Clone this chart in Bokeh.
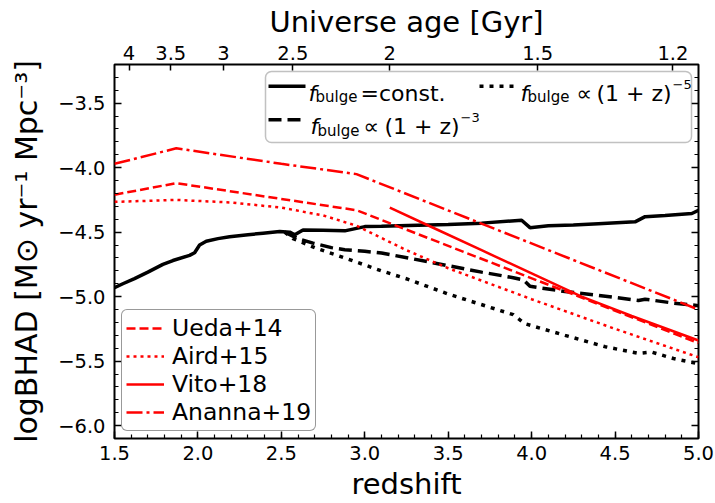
from bokeh.plotting import figure
from bokeh.models import (Range1d, LinearAxis, SingleIntervalTicker, FixedTicker,
                          CustomJSTickFormatter, Legend, LegendItem, Label, BoxAnnotation)
from bokeh.embed import file_html
from bokeh.resources import INLINE

# ---------------- data ----------------
z_const = [1.50, 1.55, 1.62, 1.70, 1.79, 1.85, 1.95, 1.98, 2.01, 2.05, 2.12, 2.19, 2.30,
           2.39, 2.49, 2.55, 2.58, 2.63, 2.75, 2.88, 3.00, 3.10, 3.26, 3.50, 3.70, 3.94,
           3.99, 4.10, 4.25, 4.40, 4.62, 4.68, 4.80, 4.96, 5.00]
bhad_const = [-4.93, -4.90, -4.86, -4.81, -4.75, -4.72, -4.68, -4.66, -4.60, -4.57, -4.55,
              -4.535, -4.52, -4.508, -4.495, -4.50, -4.521, -4.483, -4.485, -4.49, -4.457,
              -4.455, -4.449, -4.44, -4.43, -4.408, -4.465, -4.45, -4.445, -4.435, -4.42,
              -4.38, -4.37, -4.355, -4.33]

z_pow3 = [2.52, 2.60, 2.69, 2.80, 2.88, 3.00, 3.10, 3.26, 3.50, 3.70, 3.89, 3.95, 3.99,
          4.20, 4.40, 4.64, 4.68, 4.85, 5.00]
bhad_pow3 = [-4.50, -4.55, -4.585, -4.62, -4.636, -4.648, -4.662, -4.70, -4.76, -4.81,
             -4.853, -4.87, -4.92, -4.96, -4.99, -5.03, -5.02, -5.05, -5.07]

z_pow5 = [2.52, 2.57, 2.70, 2.88, 3.10, 3.26, 3.50, 3.89, 3.96, 4.20, 4.44, 4.64, 4.72,
          4.85, 5.00]
bhad_pow5 = [-4.50, -4.55, -4.62, -4.70, -4.80, -4.866, -4.98, -5.14, -5.21, -5.30, -5.388,
             -5.44, -5.43, -5.48, -5.52]

z_ueda = [1.50, 1.87, 2.95, 5.00]
bhad_ueda = [-4.21, -4.12, -4.33, -5.36]

z_aird = [1.50, 1.87, 2.20, 2.50, 2.75, 2.95, 3.25, 3.50, 4.00, 4.50, 5.00]
bhad_aird = [-4.265, -4.25, -4.27, -4.31, -4.37, -4.45, -4.64, -4.78, -5.02, -5.25, -5.47]

z_vito = [3.15, 3.40, 3.70, 4.00, 4.30, 4.60, 5.00]
bhad_vito = [-4.31, -4.46, -4.64, -4.82, -5.00, -5.15, -5.34]

z_ananna = [1.50, 1.87, 2.50, 2.95, 5.00]
bhad_ananna = [-3.97, -3.85, -3.97, -4.05, -5.10]

age_labels = ["4", "3.5", "3", "2.5", "2", "1.5", "1.2"]
age_ticks_z = [1.587, 1.837, 2.153, 2.569, 3.150, 4.036, 4.847]

# ---------------- layout ----------------
FONT = "DejaVu Sans"
X0, X1 = 1.5, 5.0
Y0, Y1 = -6.1, -3.2
FL, FR, FT, FB = 114, 698, 64, 443
W, H = 715, 503

def dx(px):
    return X0 + (px - FL) * (X1 - X0) / (FR - FL)

def dy(py):
    return Y1 - (py - FT) * (Y1 - Y0) / (FB - FT)

p = figure(width=W, height=H, x_range=Range1d(X0, X1), y_range=Range1d(Y0, Y1),
           output_backend="svg", toolbar_location=None,
           x_axis_location=None, y_axis_location=None,
           min_border_left=FL, min_border_right=W - FR,
           min_border_top=FT, min_border_bottom=H - FB)
p.grid.visible = False
p.outline_line_color = "black"
p.outline_line_width = 2
p.outline_line_alpha = 1.0
p.background_fill_color = "white"
p.border_fill_color = "white"


def style(ax, label_size="19.5px"):
    ax.axis_line_color = None
    ax.major_tick_in = 7
    ax.major_tick_out = 0
    ax.minor_tick_in = 4
    ax.minor_tick_out = 0
    ax.major_tick_line_color = "black"
    ax.major_tick_line_width = 1.5
    ax.minor_tick_line_color = "black"
    ax.minor_tick_line_width = 1.2
    ax.major_label_text_font = FONT
    ax.major_label_text_font_size = label_size
    ax.major_label_text_color = "black"
    ax.axis_label_text_font = FONT
    ax.axis_label_text_font_size = "29px"
    ax.axis_label_text_font_style = "normal"
    ax.axis_label_text_color = "black"


fmt_x = CustomJSTickFormatter(code="return tick.toFixed(1);")
fmt_y = CustomJSTickFormatter(code="return tick.toFixed(1).replace('-', '\u2212');")
fmt_none = CustomJSTickFormatter(code="return '';")

xb = LinearAxis(ticker=SingleIntervalTicker(interval=0.5, num_minor_ticks=5),
                formatter=fmt_x, axis_label="redshift")
style(xb)
xb.major_label_standoff = 7
xb.axis_label_standoff = 4
p.add_layout(xb, "below")

yl = LinearAxis(ticker=SingleIntervalTicker(interval=0.5, num_minor_ticks=5),
                formatter=fmt_y, axis_label="logBHAD [M\u2299 yr\u207b\u00b9 Mpc\u207b\u00b3]")
style(yl)
yl.major_label_standoff = 9
yl.axis_label_standoff = 11
yl.axis_label_text_font_size = "30px"
p.add_layout(yl, "left")

yr = LinearAxis(ticker=SingleIntervalTicker(interval=0.5, num_minor_ticks=5),
                formatter=fmt_none)
style(yr)
yr.major_label_standoff = 0
yr.major_label_text_font_size = "0px"
p.add_layout(yr, "right")

xt = LinearAxis(ticker=FixedTicker(ticks=age_ticks_z, minor_ticks=[]),
                major_label_overrides={z: s for z, s in zip(age_ticks_z, age_labels)},
                axis_label="Universe age [Gyr]")
style(xt)
xt.major_tick_in = 6
xt.major_label_standoff = 5
xt.axis_label_standoff = 4
p.add_layout(xt, "above")

# ---------------- curves ----------------
RED = "#ff0000"
r_const = p.line(z_const, bhad_const, line_color="black", line_width=3.5)
r_pow3 = p.line(z_pow3, bhad_pow3, line_color="black", line_width=3.5, line_dash="13 6")
r_pow5 = p.line(z_pow5, bhad_pow5, line_color="black", line_width=3.5, line_dash="4 6")

r_ueda = p.line(z_ueda, bhad_ueda, line_color=RED, line_width=2.5, line_dash="9 4")
r_aird = p.line(z_aird, bhad_aird, line_color=RED, line_width=2.5, line_dash="3 4")
r_vito = p.line(z_vito, bhad_vito, line_color=RED, line_width=2.5)
r_ananna = p.line(z_ananna, bhad_ananna, line_color=RED, line_width=2.5,
                  line_dash="16 4 3 4")

# ---------------- lower-left legend ----------------
leg = Legend(items=[LegendItem(label="Ueda+14", renderers=[r_ueda]),
                    LegendItem(label="Aird+15", renderers=[r_aird]),
                    LegendItem(label="Vito+18", renderers=[r_vito]),
                    LegendItem(label="Ananna+19", renderers=[r_ananna])],
             location=(7, 7))
leg.label_text_font = FONT
leg.label_text_font_size = "23.5px"
leg.label_text_color = "black"
leg.label_height = 28
leg.glyph_height = 20
leg.glyph_width = 38
leg.label_standoff = 8
leg.spacing = 0
leg.padding = 4
leg.margin = 0
leg.border_line_color = "#333333"
leg.border_line_width = 1.5
leg.background_fill_color = "white"
leg.background_fill_alpha = 0.8
try:
    leg.border_radius = 6
except Exception:
    pass
p.add_layout(leg)

# ---------------- upper legend (drawn by hand for the math text) ----------------
box = BoxAnnotation(left=dx(265), right=dx(691), top=dy(71), bottom=dy(143),
                    fill_color="white", fill_alpha=0.8, line_color="#333333",
                    line_width=1.5)
try:
    box.border_radius = 6
except Exception:
    pass
p.add_layout(box)

B1, B2 = 93, 127
MAIN, SUB = 22, 15


def add_text(px, py, s, size, style="normal"):
    p.add_layout(Label(x=dx(px), y=dy(py), text=s, text_font=FONT,
                       text_font_size=f"{size}px", text_font_style=style,
                       text_color="black", text_baseline="alphabetic", text_align="left"))


def fbulge(px, base):
    add_text(px, base, "f", MAIN, "italic")
    add_text(px + 7, base + 4, "bulge", SUB)


def prop(px_sym, px_par, px_sup, base, sup):
    add_text(px_sym, base, "\u221d", MAIN)
    add_text(px_par, base, "(1 + z)", MAIN)
    add_text(px_sup, base - 9, sup, SUB - 2)


def sample(px0, px1, py, **kw):
    r = p.line([dx(px0), dx(px1)], [dy(py), dy(py)], **kw)
    r.level = "overlay"


# row 1, column 1
sample(268, 305, B1 - 7, line_color="black", line_width=3.5)
fbulge(308, B1)
add_text(360, B1, "=const.", MAIN)
# row 1, column 2
sample(479, 513, B1 - 7, line_color="black", line_width=3.5, line_dash="4 6")
fbulge(520, B1)
prop(576, 596, 672, B1, "\u22125")
# row 2
sample(268, 305, B2 - 7, line_color="black", line_width=3.5, line_dash="13 6")
fbulge(310, B2)
prop(363, 384, 460, B2, "\u22123")

open("out.html", "w").write(file_html(p, INLINE))
